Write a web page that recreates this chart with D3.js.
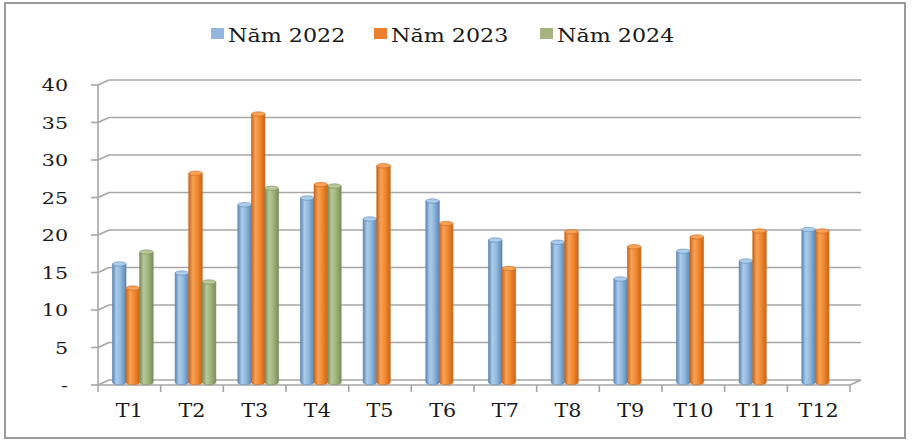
<!DOCTYPE html>
<html><head><meta charset="utf-8">
<script src="https://cdn.jsdelivr.net/npm/d3@7"></script>
<style>body{margin:0;background:#fff}svg{display:block}</style>
</head><body><svg id="c" width="913" height="443"></svg>
<script>
const months = ["T1","T2","T3","T4","T5","T6","T7","T8","T9","T10","T11","T12"];
const seriesNames = ["Năm 2022","Năm 2023","Năm 2024"];
const y2022 = [15.8,14.6,23.7,24.6,21.8,24.2,19.0,18.7,13.8,17.5,16.2,20.4];
const y2023 = [12.6,27.9,35.8,26.4,28.9,21.2,15.2,20.1,18.1,19.4,20.2,20.2];
const y2024 = [17.4,13.4,25.9,26.2,null,null,null,null,null,null,null,null];
const yTicks = [0,5,10,15,20,25,30,35,40];
const yTickLabels = ["-","5","10","15","20","25","30","35","40"];

const colors = [
  {base:"#8fb8de", light:"#acccec", dark:"#5d86b2", legend:"#93b6dd"},
  {base:"#f28a30", light:"#f7a258", dark:"#c9661a", legend:"#ed7d31"},
  {base:"#a3b57f", light:"#b8c898", dark:"#7b8d5b", legend:"#a5b380"}
];
const series = [y2022,y2023,y2024];

const svg = d3.select("#c");
const font = "'DejaVu Serif', serif";
const dx = 11, dy = -5;
const x0 = 98, x1 = 850;
const yF = d3.scaleLinear().domain([0,40]).range([385,85]);
const yB = d3.scaleLinear().domain([0,40]).range([385+dy,85+dy]);
const yM = d3.scaleLinear().domain([0,40]).range([385+dy/2,85+dy/2]);
const xF = d3.scaleBand().domain(months).range([x0,x1]);
const xM = d3.scaleBand().domain(months).range([x0+3.5,x1+3.5]).paddingInner(0.35).paddingOuter(0.175);
const xS = d3.scaleBand().domain([0,1,2]).range([0,xM.bandwidth()]);

svg.append("rect").attr("x",5).attr("y",3).attr("width",900).attr("height",435)
  .attr("fill","none").attr("stroke","#9a9a9a").attr("stroke-width",2);

const defs = svg.append("defs");
colors.forEach((c,i)=>{
  const g = defs.append("linearGradient").attr("id","g"+i).attr("x1","0").attr("x2","1").attr("y1","0").attr("y2","0");
  g.append("stop").attr("offset","0").attr("stop-color",c.dark);
  g.append("stop").attr("offset","0.3").attr("stop-color",c.light);
  g.append("stop").attr("offset","0.6").attr("stop-color",c.base);
  g.append("stop").attr("offset","1").attr("stop-color",c.dark);
});

const grid = svg.append("g").attr("stroke","#a6a6a6").attr("stroke-width",1.6).attr("fill","none");
yTicks.forEach(v=>{
  grid.append("line").attr("x1",x0+dx).attr("x2",x1+dx).attr("y1",yB(v)).attr("y2",yB(v));
  grid.append("line").attr("x1",x0).attr("y1",yF(v)).attr("x2",x0+dx).attr("y2",yB(v));
  grid.append("line").attr("x1",x0-7).attr("x2",x0).attr("y1",yF(v)).attr("y2",yF(v));
});
grid.append("line").attr("x1",x0).attr("x2",x1).attr("y1",yF(0)).attr("y2",yF(0));
grid.append("line").attr("x1",x1).attr("y1",yF(0)).attr("x2",x1+dx).attr("y2",yB(0));
grid.append("line").attr("x1",x0).attr("x2",x0).attr("y1",yF(40)).attr("y2",yF(0)+1);
d3.range(13).forEach(i=>{
  const x = x0 + i*xF.step();
  grid.append("line").attr("x1",x).attr("x2",x).attr("y1",yF(0)).attr("y2",yF(0)+7);
});

const bars = svg.append("g");
months.forEach((m,mi)=>{
  series.forEach((s,si)=>{
    const v = s[mi];
    if (v==null) return;
    const w = xS.bandwidth();
    const x = xM(m)+xS(si);
    const yt = yM(v), yb = yM(0);
    const c = colors[si];
    const ry = 2.2;
    bars.append("path")
      .attr("d",`M${x},${yt} L${x},${yb} A${w/2},${ry} 0 0 0 ${x+w},${yb} L${x+w},${yt} Z`)
      .attr("fill",`url(#g${si})`).attr("stroke",c.dark).attr("stroke-width",0.6);
    bars.append("ellipse").attr("cx",x+w/2).attr("cy",yt).attr("rx",w/2).attr("ry",ry)
      .attr("fill",c.light).attr("stroke",c.dark).attr("stroke-width",0.6);
  });
});

svg.append("g").selectAll("text").data(yTicks).join("text")
  .attr("transform",d=>`translate(68,${yF(d)+6}) scale(1.25,1)`)
  .attr("text-anchor","end").attr("font-family",font).attr("font-size",16.5).attr("fill","#1a1a1a")
  .text((d,i)=>yTickLabels[i]);

svg.append("g").selectAll("text").data(months).join("text")
  .attr("transform",d=>`translate(${xF(d)+xF.bandwidth()/2},417) scale(1.15,1)`)
  .attr("text-anchor","middle").attr("font-family",font).attr("font-size",18).attr("fill","#1a1a1a")
  .text(d=>d);

const legX = [211,374,540];
const lg = svg.append("g");
seriesNames.forEach((n,i)=>{
  lg.append("rect").attr("x",legX[i]).attr("y",28).attr("width",13).attr("height",11).attr("fill",colors[i].legend);
  lg.append("text").attr("transform",`translate(${legX[i]+17},42) scale(1.17,1)`)
    .attr("font-family",font).attr("font-size",19).attr("fill","#1a1a1a").text(n);
});
</script></body></html>
